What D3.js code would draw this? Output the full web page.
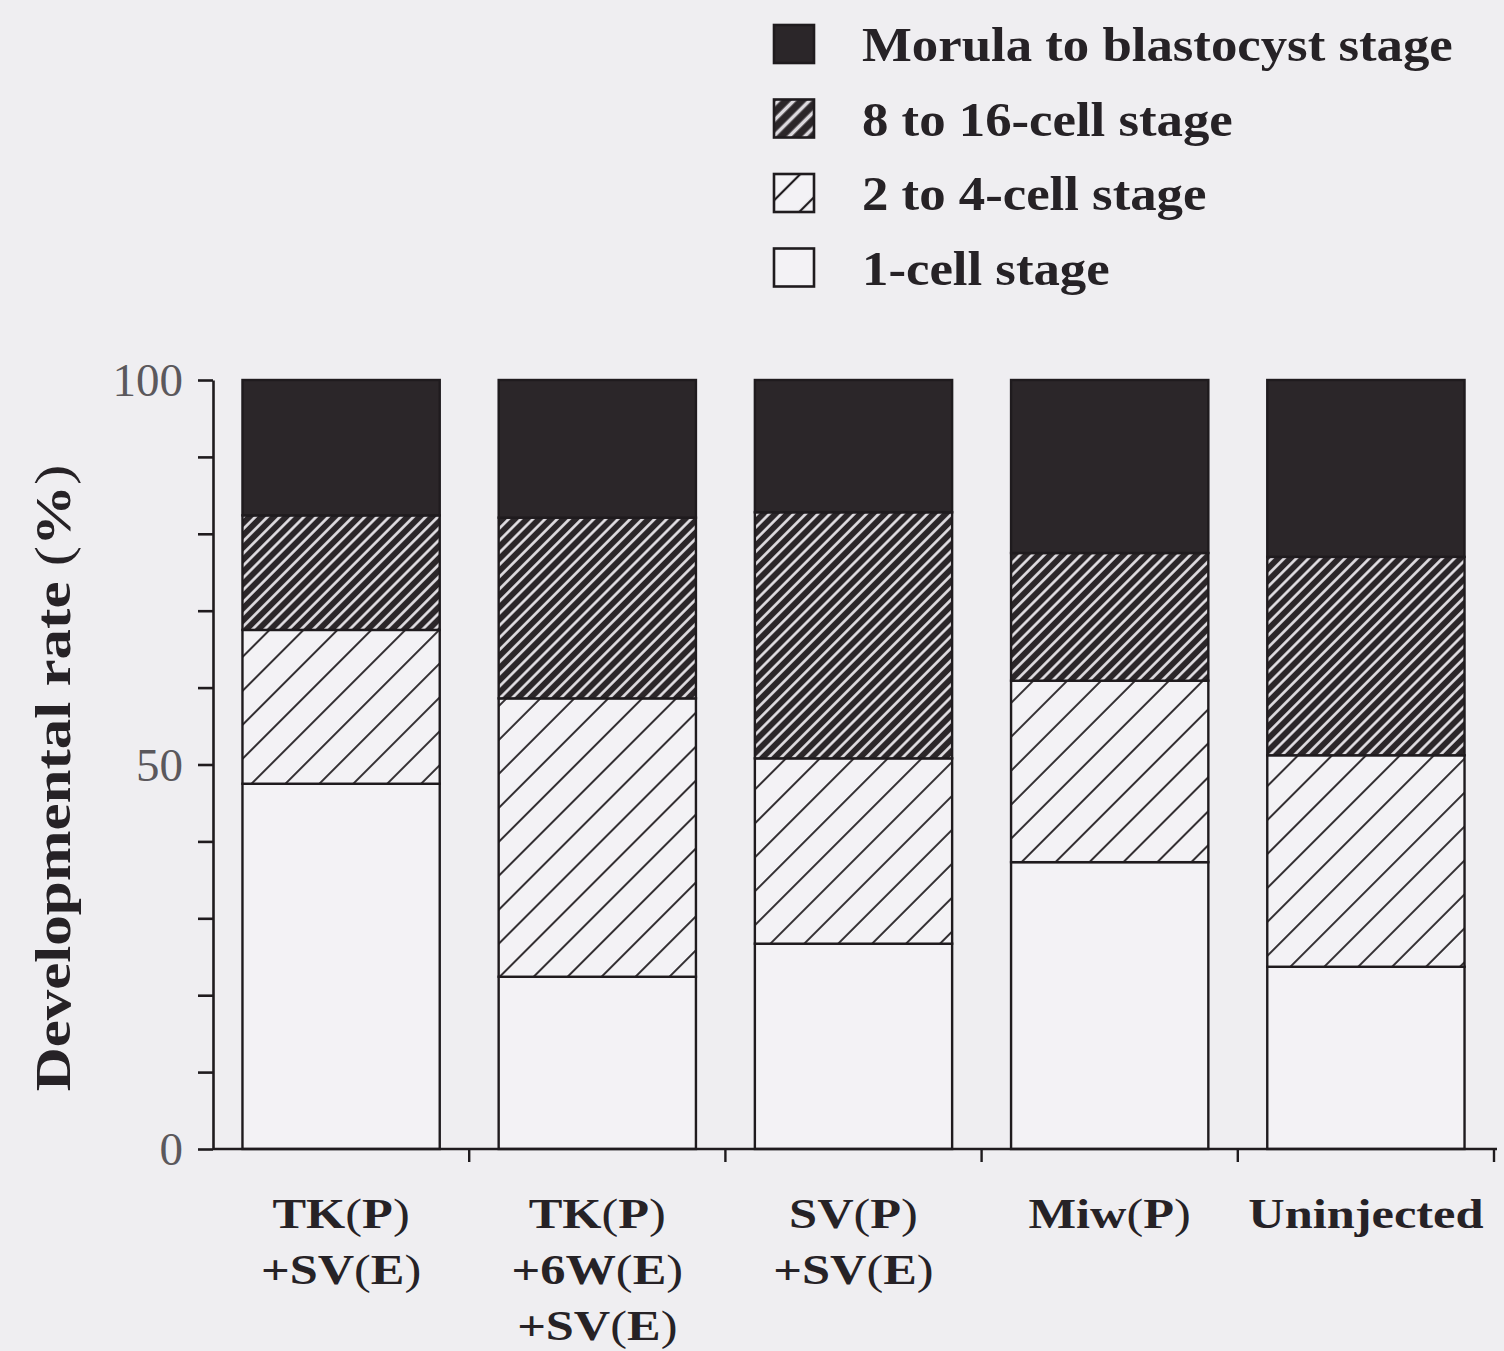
<!DOCTYPE html>
<html>
<head>
<meta charset="utf-8">
<script src="https://cdn.jsdelivr.net/npm/d3@7"></script>
<style>
  html, body { margin: 0; padding: 0; background: #efeef1; }
  svg { display: block; }
</style>
</head>
<body>
<svg id="chart" width="1504" height="1351"></svg>
<script>
// Embryo development stages after injection, percent of embryos per stage
const groups = [
  ["TK(P)", "+SV(E)"],
  ["TK(P)", "+6W(E)", "+SV(E)"],
  ["SV(P)", "+SV(E)"],
  ["Miw(P)"],
  ["Uninjected"]
];
const oneCell        = [47.5, 22.4, 26.7, 37.3, 23.7];
const twoToFour      = [20.0, 36.2, 24.1, 23.6, 27.5];
const eightToSixteen = [14.9, 23.5, 32.0, 16.6, 25.8];
const morulaBlast    = [17.6, 17.9, 17.2, 22.5, 23.0];

const stageKeys   = ["one", "two", "eight", "morula"];
const stageLabels = ["1-cell stage", "2 to 4-cell stage", "8 to 16-cell stage", "Morula to blastocyst stage"];
const yTicks      = [0, 10, 20, 30, 40, 50, 60, 70, 80, 90, 100];
const yTickLabels = [0, 50, 100];
const yTitle      = "Developmental rate (%)";

const rows = groups.map((g, i) => ({
  id: i,
  one: oneCell[i], two: twoToFour[i], eight: eightToSixteen[i], morula: morulaBlast[i]
}));

const svg = d3.select("#chart");
const INK = "#1f1b1e";
const DARK = "#2b2629";
const PAPER = "#f3f2f5";

// hatch patterns
const defs = svg.append("defs");
function hatch(id, bg, line, period, width) {
  const p = defs.append("pattern")
    .attr("id", id)
    .attr("patternUnits", "userSpaceOnUse")
    .attr("width", 40).attr("height", period)
    .attr("patternTransform", "rotate(-45)");
  p.append("rect").attr("width", 40).attr("height", period).attr("fill", bg);
  p.append("rect").attr("x", 0).attr("y", (period - width) / 2)
    .attr("width", 40).attr("height", width).attr("fill", line);
}
hatch("denseHatch", DARK, "#e6e3e8", 8.6, 2.6);
hatch("sparseHatch", PAPER, INK, 24, 1.8);
hatch("denseHatchKey", DARK, "#dcd9de", 11, 3.6);
hatch("sparseHatchKey", PAPER, INK, 26, 2.2);

const fills    = { one: PAPER, two: "url(#sparseHatch)", eight: "url(#denseHatch)", morula: DARK };
const keyFills = { one: PAPER, two: "url(#sparseHatchKey)", eight: "url(#denseHatchKey)", morula: DARK };

// scales
const x = d3.scaleBand()
  .domain(rows.map(d => d.id))
  .range([213, 1494])
  .paddingInner(0.23)
  .paddingOuter(0.115);

const y = d3.scaleLinear().domain([0, 100]).range([1149, 380]);

// stacked bars
const series = d3.stack().keys(stageKeys)(rows);

const barG = svg.append("g");
series.forEach(s => {
  barG.selectAll(null)
    .data(s)
    .join("rect")
    .attr("x", d => x(d.data.id))
    .attr("y", d => y(d[1]))
    .attr("width", x.bandwidth())
    .attr("height", d => y(d[0]) - y(d[1]))
    .attr("fill", fills[s.key])
    .attr("stroke", INK)
    .attr("stroke-width", 2.4);
});

// y axis
const yAxis = d3.axisLeft(y)
  .tickValues(yTicks)
  .tickSize(15)
  .tickSizeOuter(0)
  .tickFormat(d => yTickLabels.includes(d) ? d : "");

const yG = svg.append("g").attr("transform", "translate(213,0)").call(yAxis);
yG.select(".domain").attr("stroke", INK).attr("stroke-width", 2.6);
yG.selectAll(".tick line").attr("stroke", INK).attr("stroke-width", 2.6);
yG.selectAll(".tick text")
  .attr("x", -30)
  .attr("dy", "0.34em")
  .attr("font-family", "'Liberation Serif', 'Times New Roman', serif")
  .attr("font-size", 47)
  .attr("fill", "#5b585c");

// x axis: baseline and ticks at band boundaries
const xEnd = x.range()[1];
const xG = svg.append("g");
xG.append("line")
  .attr("x1", 213).attr("x2", xEnd + 3)
  .attr("y1", y(0)).attr("y2", y(0))
  .attr("stroke", INK).attr("stroke-width", 2.6);

const boundaries = rows.map(d => x(d.id) + x.bandwidth() + x.step() * x.paddingInner() / 2);
xG.selectAll(".xtick")
  .data(boundaries)
  .join("line")
  .attr("class", "xtick")
  .attr("x1", d => d).attr("x2", d => d)
  .attr("y1", y(0)).attr("y2", y(0) + 13)
  .attr("stroke", INK).attr("stroke-width", 2.4);

// text helper: bold serif with regular-weight parentheses
const SERIF = "'Liberation Serif', 'Times New Roman', serif";
function richText(sel, str) {
  str.split(/([()])/).filter(t => t.length).forEach(t => {
    sel.append("tspan")
      .attr("font-weight", t === "(" || t === ")" ? "normal" : "bold")
      .text(t);
  });
}

// category labels
const labG = svg.append("g");
rows.forEach((d, i) => {
  const cx = x(d.id) + x.bandwidth() / 2;
  groups[i].forEach((line, j) => {
    const t = labG.append("text")
      .attr("transform", `translate(${cx},${1228 + j * 56}) scale(1.2,1)`)
      .attr("text-anchor", "middle")
      .attr("font-family", SERIF)
      .attr("font-size", 42)
      .attr("fill", "#262226");
    richText(t, line);
  });
});

// y title
const yt = svg.append("text")
  .attr("transform", `translate(70,778) rotate(-90) scale(1.22,1)`)
  .attr("text-anchor", "middle")
  .attr("font-family", SERIF)
  .attr("font-size", 50)
  .attr("fill", "#262226");
richText(yt, yTitle);

// legend (top-down: morula first)
const legendOrder = stageKeys.slice().reverse();
const legG = svg.append("g");
legendOrder.forEach((k, i) => {
  const cy = 44 + i * 74.5;
  legG.append("rect")
    .attr("x", 774).attr("y", cy - 19)
    .attr("width", 40).attr("height", 38)
    .attr("fill", keyFills[k])
    .attr("stroke", INK).attr("stroke-width", 2.6);
  legG.append("text")
    .attr("transform", `translate(862,${cy + 17}) scale(1.1,1)`)
    .attr("font-family", SERIF)
    .attr("font-weight", "bold")
    .attr("font-size", 48)
    .attr("fill", "#262226")
    .text(stageLabels[stageKeys.indexOf(k)]);
});
</script>
</body>
</html>
